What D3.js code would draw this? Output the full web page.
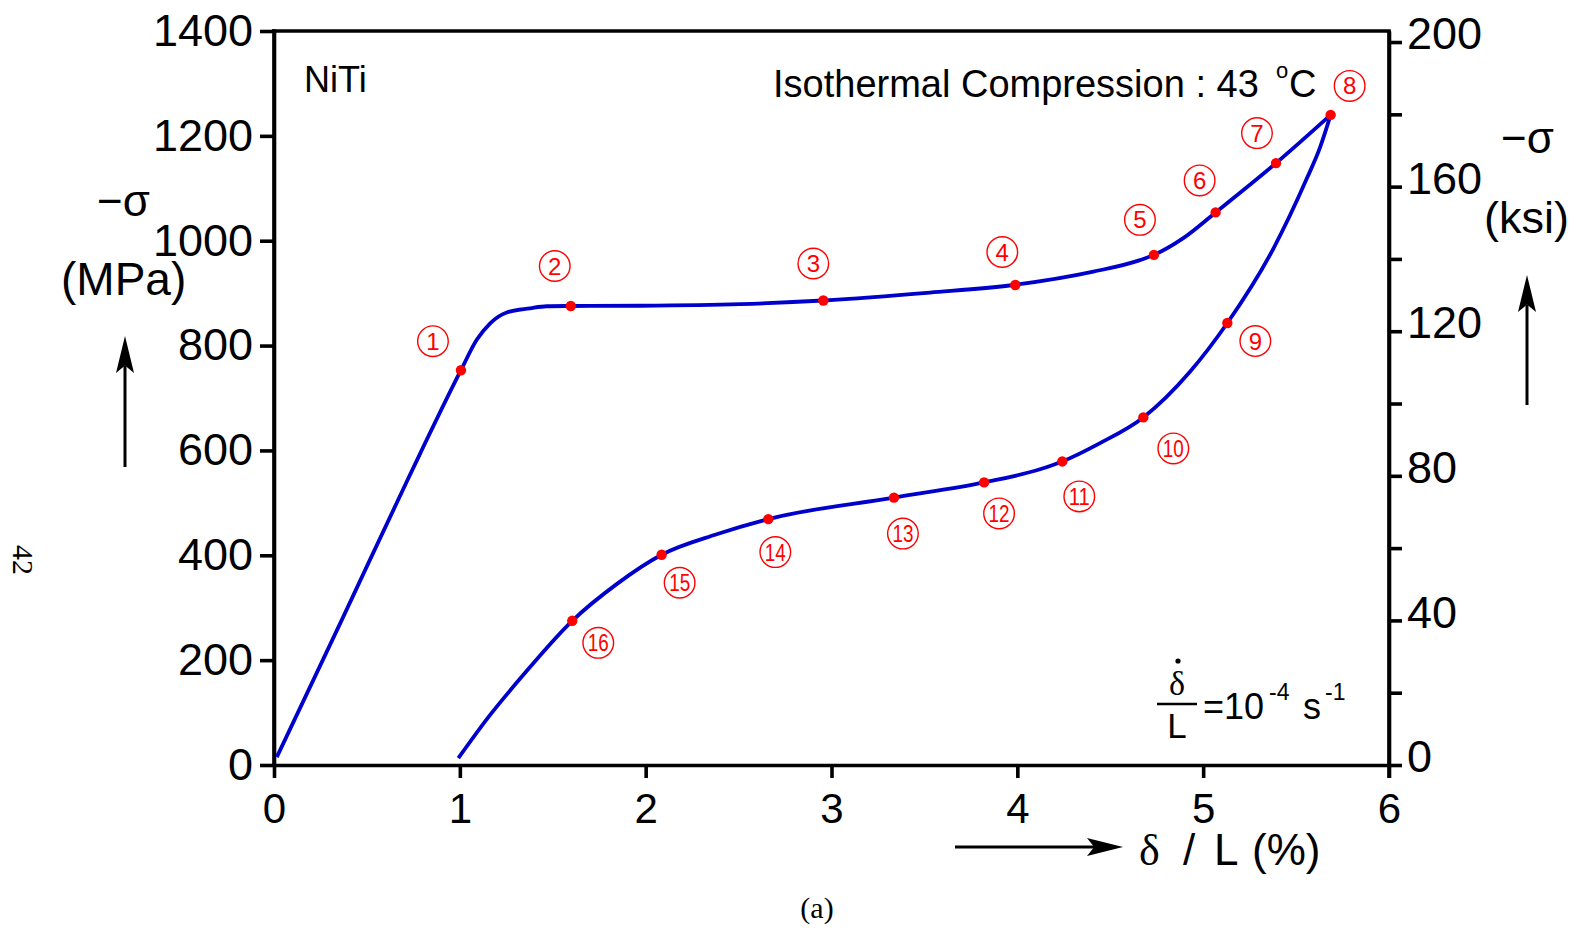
<!DOCTYPE html>
<html>
<head>
<meta charset="utf-8">
<script src="https://cdn.jsdelivr.net/npm/d3@7"></script>
<style>
  html, body { margin: 0; padding: 0; background: #fff; }
  svg { display: block; }
  text { font-family: "Liberation Sans", Arial, sans-serif; fill: #000; }
</style>
</head>
<body>
<svg id="chart" width="1585" height="931"></svg>
<script>
// ---------------- DATA ----------------
// Loading branch (strain %, -stress MPa)
const loadStrain = [0.015, 0.36, 0.723, 1.006, 1.091, 1.162, 1.252, 1.378, 1.467, 1.597, 1.97, 2.508, 2.956, 3.530, 3.989, 4.409, 4.660, 4.735, 4.893, 5.067, 5.392, 5.686];
const loadStress = [15, 273, 547, 753, 811, 842, 863, 871, 875, 875.5, 876, 879, 886, 901, 916, 941, 963, 973, 1005, 1054, 1148, 1240];
// Unloading branch (in order of unloading)
const unloadStrain = [5.686, 5.629, 5.557, 5.378, 5.130, 4.929, 4.678, 4.445, 4.242, 4.122, 3.821, 3.336, 2.660, 2.382, 2.086, 1.844, 1.605, 1.342, 1.162, 0.992];
const unloadStress = [1240, 1178, 1118, 985, 843, 750, 663, 614, 579, 564, 539, 510, 469, 440, 401, 345, 275, 172, 95, 13];
// Marked states 1..16
const markLabels = [1, 2, 3, 4, 5, 6, 7, 8, 9, 10, 11, 12, 13, 14, 15, 16];
const markStrain = [1.006, 1.597, 2.956, 3.989, 4.735, 5.067, 5.392, 5.686, 5.130, 4.678, 4.242, 3.821, 3.336, 2.660, 2.086, 1.605];
const markStress = [753, 875.5, 886, 915.5, 973, 1054, 1148, 1240, 843, 663, 579, 539, 510, 469, 401, 275];
// Ticks
const xTicks = [0, 1, 2, 3, 4, 5, 6];
const mpaTicks = [0, 200, 400, 600, 800, 1000, 1200, 1400];
const ksiTicks = [0, 20, 40, 60, 80, 100, 120, 140, 160, 180, 200];
const ksiLabelled = [0, 40, 80, 120, 160, 200];
const MPA_PER_KSI = 6.894757;

// ---------------- LAYOUT ----------------
const labelDx = [-28, -16, -10, -13, -14, -16, -19, 19, 28, 30, 17, 15, 9, 7, 18, 26];
const labelDy = [-29, -40, -37, -33, -35, -32, -30, -29, 18, 31, 35, 31, 36, 33, 28, 22];

const svg = d3.select("#chart");
const X0 = 274, X1 = 1389, Y0 = 765, Y1 = 31;
const x = d3.scaleLinear().domain([0, 6]).range([X0, X1]);
const y = d3.scaleLinear().domain([0, 1400]).range([Y0, Y1]);
const yk = d3.scaleLinear().domain([0, 1400 / MPA_PER_KSI]).range([Y0, Y1]);

const AXW = 3.6;

// top frame line
svg.append("line").attr("x1", X0).attr("x2", X1).attr("y1", Y1).attr("y2", Y1)
  .attr("stroke", "#000").attr("stroke-width", AXW).attr("stroke-linecap", "square");

// left axis
const gl = svg.append("g").attr("transform", `translate(${X0},0)`)
  .call(d3.axisLeft(y).tickValues(mpaTicks).tickSize(14).tickSizeOuter(0).tickPadding(7).tickFormat(d3.format("d")));
gl.selectAll("text").style("font-size", "45px");

// bottom axis
const gb = svg.append("g").attr("transform", `translate(0,${Y0})`)
  .call(d3.axisBottom(x).tickValues(xTicks).tickSize(13).tickSizeOuter(0).tickPadding(15).tickFormat(d3.format("d")));
gb.selectAll("text").style("font-size", "42px");

// right axis (ksi)
const gr = svg.append("g").attr("transform", `translate(${X1},0)`)
  .call(d3.axisRight(yk).tickValues(ksiTicks).tickSize(13).tickSizeOuter(0).tickPadding(5)
    .tickFormat(d => ksiLabelled.includes(d) ? d3.format("d")(d) : ""));
gr.selectAll("text").style("font-size", "45px").attr("dy", "0.15em");

[gl, gb, gr].forEach(g => {
  g.selectAll("path.domain").attr("stroke", "#000").attr("stroke-width", AXW);
  g.selectAll(".tick line").attr("stroke", "#000").attr("stroke-width", AXW);
  g.selectAll("text").attr("fill", "#000").style("font-family", '"Liberation Sans", Arial, sans-serif');
});
svg.append("line").attr("x1", X0).attr("x2", X0).attr("y1", Y1).attr("y2", Y0)
  .attr("stroke", "#000").attr("stroke-width", AXW).attr("stroke-linecap", "square");
svg.append("line").attr("x1", X1).attr("x2", X1).attr("y1", Y1).attr("y2", Y0 + 13)
  .attr("stroke", "#000").attr("stroke-width", AXW);

// ---------------- CURVES ----------------
const line = d3.line().x(d => x(d[0])).y(d => y(d[1])).curve(d3.curveMonotoneX);
const loadPts = loadStrain.map((s, i) => [s, loadStress[i]]);
const unloadPts = unloadStrain.map((s, i) => [s, unloadStress[i]]).reverse();
svg.append("path").attr("d", line(loadPts)).attr("fill", "none")
  .attr("stroke", "#0000cc").attr("stroke-width", 3.8).attr("stroke-linejoin", "round");
svg.append("path").attr("d", line(unloadPts)).attr("fill", "none")
  .attr("stroke", "#0000cc").attr("stroke-width", 3.8).attr("stroke-linejoin", "round");

// markers
const marks = markLabels.map((n, i) => ({ n, sx: markStrain[i], sy: markStress[i], dx: labelDx[i], dy: labelDy[i] }));
svg.append("g").selectAll("circle").data(marks).join("circle")
  .attr("cx", d => x(d.sx)).attr("cy", d => y(d.sy)).attr("r", 5.2).attr("fill", "#ff0000");

// circled labels
const lg = svg.append("g").selectAll("g").data(marks).join("g")
  .attr("transform", d => `translate(${x(d.sx) + d.dx},${y(d.sy) + d.dy})`);
lg.append("circle").attr("r", 15.3).attr("fill", "none").attr("stroke", "#ff0000").attr("stroke-width", 1.4);
lg.append("text").text(d => d.n).attr("text-anchor", "middle").attr("y", 8.6)
  .style("font-size", "24px").attr("fill", "#ff0000").style("fill", "#ff0000")
  .each(function(d) {
    if (d.n >= 10) d3.select(this).attr("textLength", 21).attr("lengthAdjust", "spacingAndGlyphs");
  });

// ---------------- TEXT ----------------
svg.append("text").attr("x", 304).attr("y", 92).style("font-size", "36px").text("NiTi");

svg.append("text").attr("x", 773).attr("y", 97).style("font-size", "38px").text("Isothermal Compression : 43");
svg.append("text").attr("x", 1276).attr("y", 78).style("font-size", "22px").text("o");
svg.append("text").attr("x", 1289).attr("y", 97).style("font-size", "38px").text("C");

// left axis title
svg.append("text").attr("x", 97).attr("y", 216).style("font-size", "44px").text("\u2212\u03c3");
svg.append("text").attr("x", 61).attr("y", 295).style("font-size", "46px").text("(MPa)");
// right axis title
svg.append("text").attr("x", 1501).attr("y", 153).style("font-size", "44px").text("\u2212\u03c3");
svg.append("text").attr("x", 1484).attr("y", 233).style("font-size", "45px").text("(ksi)");

// x axis title
const xt = svg.append("text").attr("y", 865).style("font-size", "44px");
xt.append("tspan").attr("x", 1139).style("font-family", '"Liberation Serif", "Times New Roman", serif').text("\u03b4");
xt.append("tspan").attr("x", 1183).text("/");
xt.append("tspan").attr("x", 1214).text("L");
xt.append("tspan").attr("x", 1252).text("(%)");

// arrows
function arrow(x1, y1, x2, y2, len, half) {
  const ang = Math.atan2(y2 - y1, x2 - x1);
  const ux = Math.cos(ang), uy = Math.sin(ang);
  const bx = x2 - ux * len, by = y2 - uy * len;
  const nx = bx + ux * len * 0.2, ny = by + uy * len * 0.2;
  svg.append("line").attr("x1", x1).attr("y1", y1).attr("x2", nx).attr("y2", ny)
    .attr("stroke", "#000").attr("stroke-width", 3);
  const p = [[x2, y2], [bx - uy * half, by + ux * half], [nx, ny], [bx + uy * half, by - ux * half]];
  svg.append("path").attr("d", "M" + p.map(q => q.join(",")).join("L") + "Z").attr("fill", "#000");
}
arrow(125, 467, 125, 336, 37, 9);
arrow(1527, 405, 1527, 275, 37, 9);
arrow(955, 847, 1123, 847, 36, 9);

// strain-rate annotation
svg.append("text").attr("x", 1177).attr("y", 695).attr("text-anchor", "middle")
  .style("font-size", "34px").style("font-family", '"Liberation Serif", "Times New Roman", serif').text("\u03b4");
svg.append("circle").attr("cx", 1178).attr("cy", 661).attr("r", 2.6).attr("fill", "#000");
svg.append("line").attr("x1", 1157).attr("x2", 1197).attr("y1", 704).attr("y2", 704)
  .attr("stroke", "#000").attr("stroke-width", 2.6);
svg.append("text").attr("x", 1177).attr("y", 738).attr("text-anchor", "middle").style("font-size", "35px").text("L");
svg.append("text").attr("x", 1203).attr("y", 719).style("font-size", "36px").text("=10");
svg.append("text").attr("x", 1269).attr("y", 700).style("font-size", "23px").text("-4");
svg.append("text").attr("x", 1303).attr("y", 719).style("font-size", "36px").text("s");
svg.append("text").attr("x", 1325).attr("y", 700).style("font-size", "23px").text("-1");

// caption and page number
svg.append("text").attr("x", 817).attr("y", 918).attr("text-anchor", "middle")
  .style("font-size", "30px").style("font-family", '"Liberation Serif", "Times New Roman", serif').text("(a)");
svg.append("text").attr("transform", "translate(13,545) rotate(90)")
  .style("font-size", "30px").style("font-family", '"Liberation Serif", "Times New Roman", serif').text("42");
</script>
</body>
</html>
